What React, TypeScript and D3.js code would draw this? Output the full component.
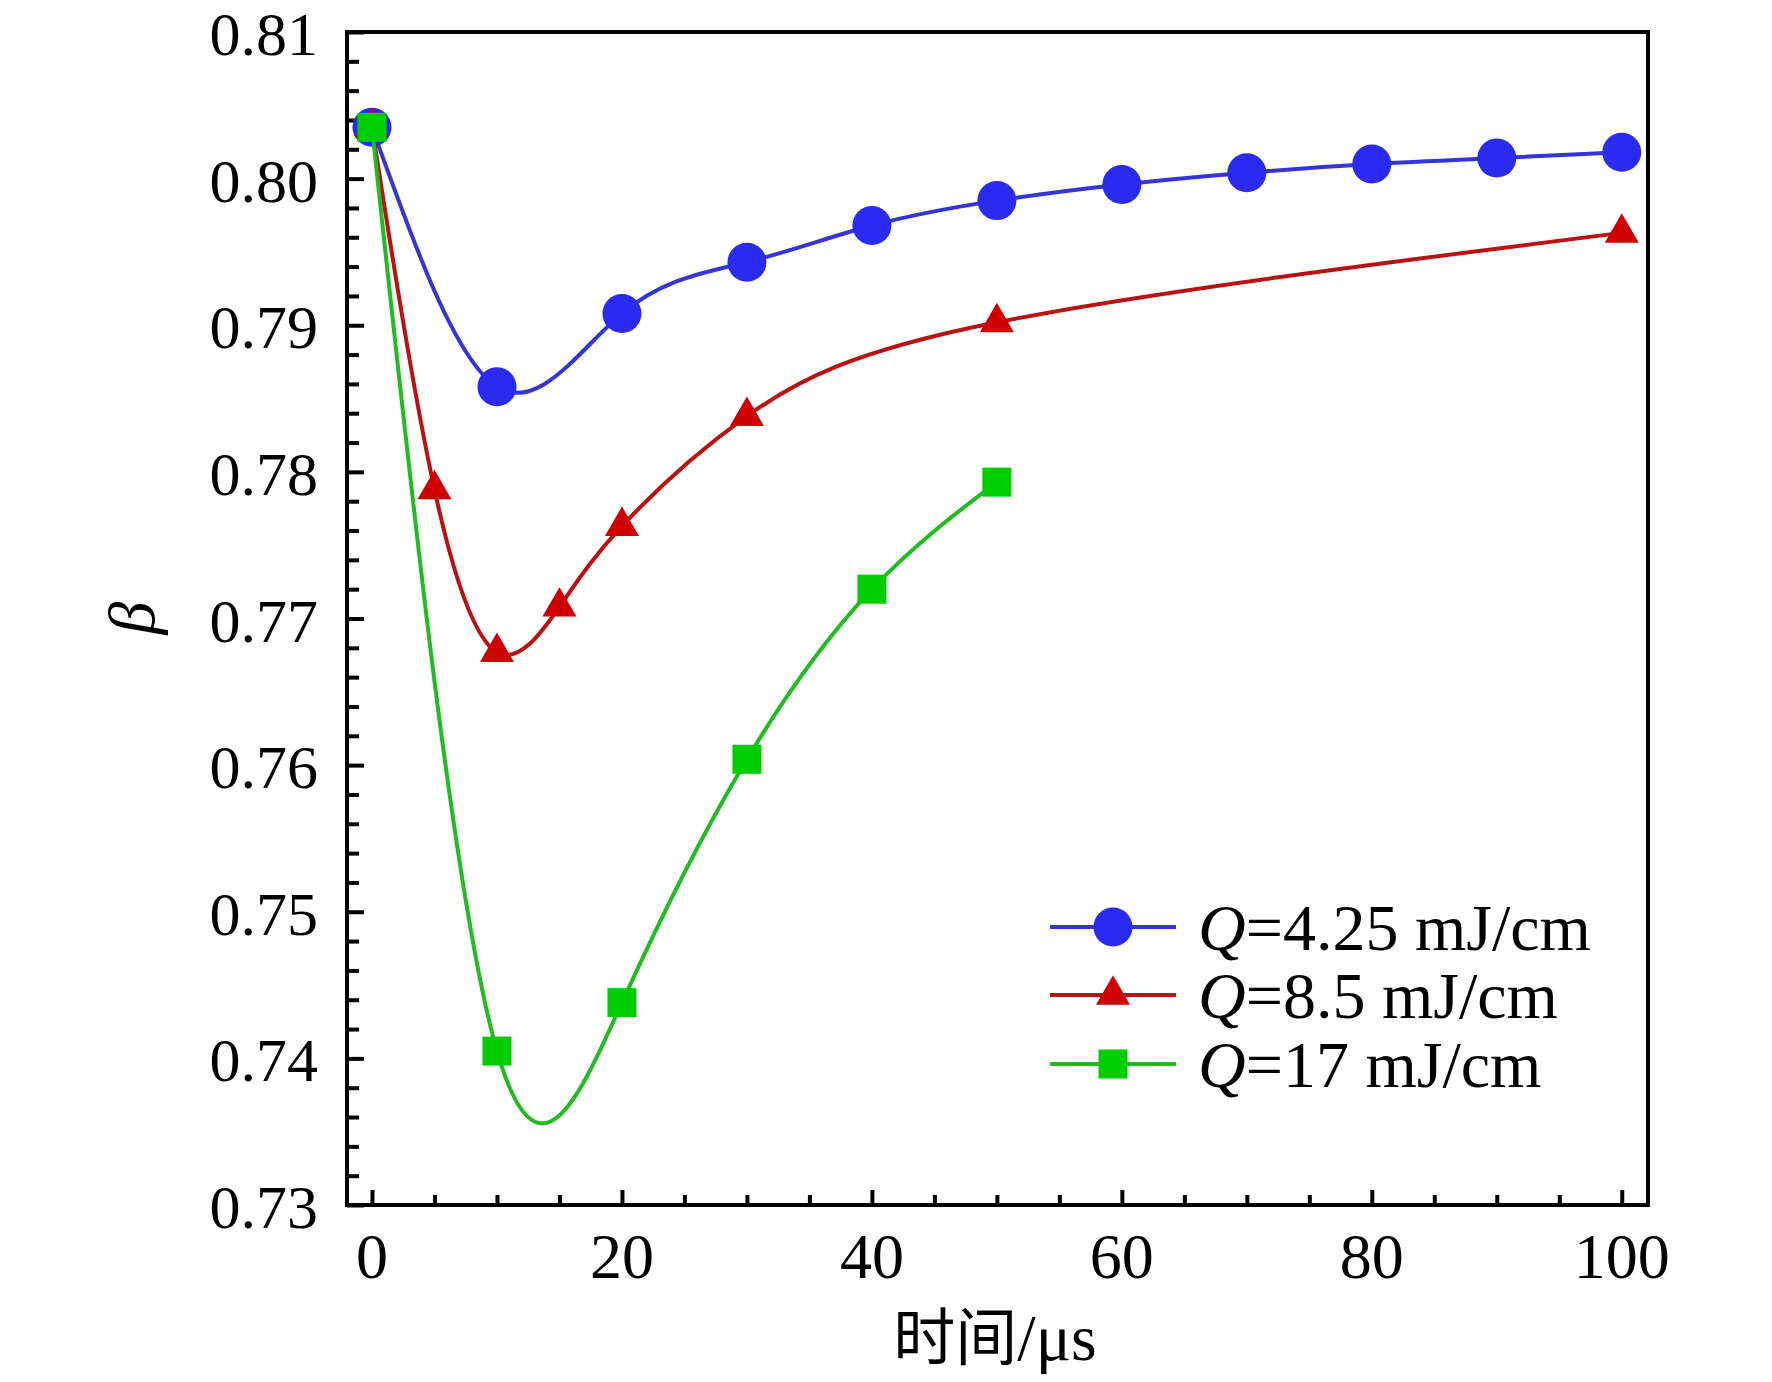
import * as d3 from 'd3';
import { useEffect, useRef } from 'react';

// time (μs) and β for each Q series
const timeQ425 = [0, 10, 20, 30, 40, 50, 60, 70, 80, 90, 100];
const betaQ425 = [0.8035, 0.7858, 0.7908, 0.7943, 0.7968, 0.7985, 0.7996, 0.8004, 0.801, 0.8014, 0.8018];
const timeQ85 = [0, 5, 10, 15, 20, 30, 50, 100];
const betaQ85 = [0.8035, 0.7788, 0.7677, 0.7708, 0.7763, 0.7838, 0.7902, 0.7963];
const timeQ17 = [0, 10, 20, 30, 40, 50];
const betaQ17 = [0.8035, 0.7405, 0.7438, 0.7604, 0.772, 0.7793];

const legendLabels = ['=4.25 mJ/cm', '=8.5 mJ/cm', '=17 mJ/cm'];
const xTickValues = [0, 20, 40, 60, 80, 100];
const yTickValues = [0.73, 0.74, 0.75, 0.76, 0.77, 0.78, 0.79, 0.8, 0.81];

const W = 1772;
const H = 1382;
const serif = '"Liberation Serif", "Times New Roman", serif';

type Pt = { t: number; b: number };

function App() {
  const svgRef = useRef<SVGSVGElement>(null);

  useEffect(() => {
    if (!svgRef.current) return;
    const svg = d3.select(svgRef.current);
    svg.selectAll('*').remove();

    const plot = { left: 347, right: 1648, top: 32, bottom: 1205 };

    const x = d3.scaleLinear().domain([-2, 102.1]).range([plot.left, plot.right]);
    const y = d3.scaleLinear().domain([0.73, 0.81]).range([plot.bottom, plot.top]);

    // ticks (inward)
    const minorX = d3.range(0, 101, 5).filter((v) => v % 20 !== 0);
    const minorY = d3.range(0, 41).map((i) => 0.73 + i * 0.002).filter((_, i) => i % 5 !== 0);

    const tickStyle = (g: d3.Selection<SVGGElement, unknown, null, undefined>) => {
      g.select('.domain').remove();
      g.selectAll('line').attr('stroke', '#000').attr('stroke-width', 4);
    };

    svg.append('g')
      .attr('transform', `translate(0,${plot.bottom})`)
      .call(d3.axisBottom(x).tickValues(minorX).tickSize(-10).tickFormat(() => ''))
      .call(tickStyle);
    svg.append('g')
      .attr('transform', `translate(0,${plot.bottom})`)
      .call(d3.axisBottom(x).tickValues(xTickValues).tickSize(-15).tickFormat(() => ''))
      .call(tickStyle);
    svg.append('g')
      .attr('transform', `translate(${plot.left},0)`)
      .call(d3.axisLeft(y).tickValues(minorY).tickSize(-12).tickFormat(() => ''))
      .call(tickStyle);
    svg.append('g')
      .attr('transform', `translate(${plot.left},0)`)
      .call(d3.axisLeft(y).tickValues(yTickValues).tickSize(-17).tickFormat(() => ''))
      .call(tickStyle);

    // frame
    svg.append('rect')
      .attr('x', plot.left)
      .attr('y', plot.top)
      .attr('width', plot.right - plot.left)
      .attr('height', plot.bottom - plot.top)
      .attr('fill', 'none')
      .attr('stroke', '#000')
      .attr('stroke-width', 4);

    // tick labels
    svg.append('g')
      .selectAll('text')
      .data(xTickValues)
      .join('text')
      .attr('x', (d) => x(d))
      .attr('y', 1278)
      .attr('text-anchor', 'middle')
      .style('font-family', serif)
      .style('font-size', '64px')
      .text((d) => String(d));

    svg.append('g')
      .selectAll('text')
      .data(yTickValues)
      .join('text')
      .attr('x', 318)
      .attr('y', (d) => y(d) + 23)
      .attr('text-anchor', 'end')
      .style('font-family', serif)
      .style('font-size', '62px')
      .text((d) => d3.format('.2f')(d));

    // axis titles
    const xTitle = svg.append('text')
      .attr('x', 995)
      .attr('y', 1360)
      .attr('text-anchor', 'middle')
      .style('font-family', serif)
      .style('font-size', '66px');
    xTitle.append('tspan').style('font-family', '"Noto Sans CJK SC", sans-serif').style('font-size', '62px').text('时间');
    xTitle.append('tspan').text('/μs');

    svg.append('text')
      .attr('transform', `translate(154,618) rotate(-90)`)
      .attr('text-anchor', 'middle')
      .style('font-family', serif)
      .style('font-style', 'italic')
      .style('font-size', '66px')
      .text('β');

    const series = [
      {
        pts: timeQ425.map((t, i) => ({ t, b: betaQ425[i] })),
        line: '#3434d8',
        fill: '#2a2af0',
        symbol: d3.symbolCircle,
        size: Math.PI * 19.5 * 19.5,
      },
      {
        pts: timeQ85.map((t, i) => ({ t, b: betaQ85[i] })),
        line: '#bb1111',
        fill: '#d00000',
        symbol: d3.symbolTriangle,
        size: (Math.sqrt(3) / 4) * 34 * 34,
      },
      {
        pts: timeQ17.map((t, i) => ({ t, b: betaQ17[i] })),
        line: '#22bb22',
        fill: '#00cc00',
        symbol: d3.symbolSquare,
        size: 29 * 29,
      },
    ];

    const line = d3
      .line<Pt>()
      .x((d) => x(d.t))
      .y((d) => y(d.b))
      .curve(d3.curveNatural);

    series.forEach((s) => {
      svg.append('path')
        .datum(s.pts)
        .attr('fill', 'none')
        .attr('stroke', s.line)
        .attr('stroke-width', 4)
        .attr('d', line);

      svg.append('g')
        .selectAll('path')
        .data(s.pts)
        .join('path')
        .attr('transform', (d) => `translate(${x(d.t)},${y(d.b)})`)
        .attr('d', d3.symbol().type(s.symbol).size(s.size)())
        .attr('fill', s.fill);
    });

    // legend
    const legendRows = [927, 995, 1064];
    series.forEach((s, i) => {
      const row = svg.append('g').attr('transform', `translate(0,${legendRows[i]})`);
      row.append('line')
        .attr('x1', 1050)
        .attr('x2', 1176)
        .attr('y1', 0)
        .attr('y2', 0)
        .attr('stroke', s.line)
        .attr('stroke-width', 4);
      row.append('path')
        .attr('transform', 'translate(1113,0)')
        .attr('d', d3.symbol().type(s.symbol).size(s.size)())
        .attr('fill', s.fill);
      const txt = row.append('text')
        .attr('x', 1198)
        .attr('y', 23)
        .style('font-family', serif)
        .style('font-size', '66px');
      txt.append('tspan').style('font-style', 'italic').text('Q');
      txt.append('tspan').text(legendLabels[i]);
    });
  }, []);

  return (
    <svg
      ref={svgRef}
      width={W}
      height={H}
      style={{ position: 'absolute', left: 0, top: 0, background: '#fff' }}
    />
  );
}

export default App;
